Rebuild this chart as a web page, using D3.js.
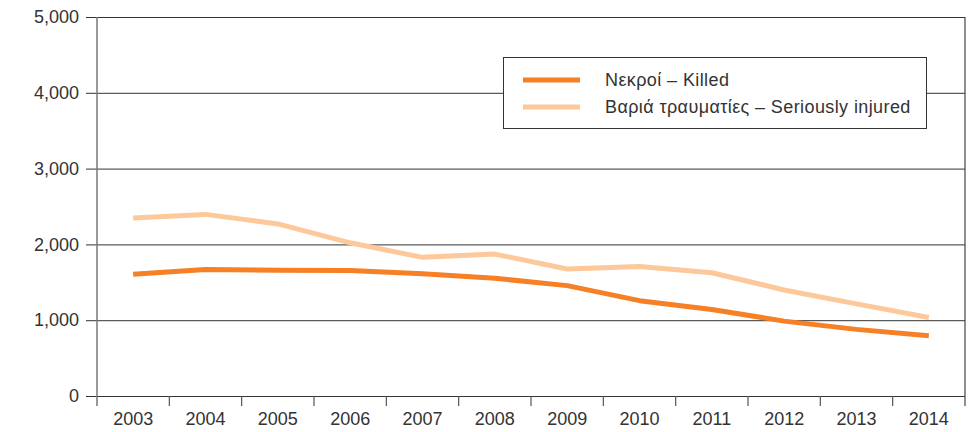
<!DOCTYPE html>
<html>
<head>
<meta charset="utf-8">
<script src="https://cdn.jsdelivr.net/npm/d3@7"></script>
<style>
body { margin: 0; background: #fff; }
svg text { font-family: "Liberation Sans", Arial, sans-serif; fill: #333; }
</style>
</head>
<body>
<svg id="chart" width="969" height="432"></svg>
<script>
const years = ["2003","2004","2005","2006","2007","2008","2009","2010","2011","2012","2013","2014"];
const killed = [1605, 1670, 1658, 1657, 1612, 1553, 1456, 1258, 1141, 988, 879, 795];
const injured = [2348, 2396, 2270, 2021, 1829, 1872, 1676, 1709, 1626, 1399, 1215, 1036];
const yTicks = [0, 1000, 2000, 3000, 4000, 5000];
const seriesNames = ["Νεκροί – Killed", "Βαριά τραυματίες – Seriously injured"];
const colors = ["#F58025", "#FDC89A"];

const svg = d3.select("#chart");
const pL = 97, pR = 965, pT = 17, pB = 396;
const fs = "18px";

const x = d3.scaleBand().domain(years).range([pL, pR]);
const y = d3.scaleLinear().domain([0, 5000]).range([pB, pT]);

// gridlines with outside ticks
const yAxis = svg.append("g").attr("transform", `translate(${pR},0)`)
  .call(d3.axisLeft(y).tickValues(yTicks).tickSize(pR - pL + 11).tickFormat(d3.format(",")).tickPadding(7));
yAxis.select(".domain").remove();
yAxis.selectAll(".tick line").attr("stroke", "#333").attr("stroke-width", 1);
yAxis.selectAll(".tick text").style("font-size", fs).style("font-family", "'Liberation Sans', Arial, sans-serif").attr("fill", "#333");

// y axis line
svg.append("line").attr("x1", pL).attr("x2", pL).attr("y1", pT).attr("y2", pB + 10)
  .attr("stroke", "#777").attr("stroke-width", 1.5);
// right border
svg.append("line").attr("x1", pR).attr("x2", pR).attr("y1", pT).attr("y2", pB + 10)
  .attr("stroke", "#444").attr("stroke-width", 1.2);

// x ticks at band boundaries
svg.append("g").selectAll("line").data(years.slice(1)).join("line")
  .attr("x1", d => x(d)).attr("x2", d => x(d))
  .attr("y1", pB).attr("y2", pB + 10)
  .attr("stroke", "#555").attr("stroke-width", 1.2);

// x labels
svg.append("g").selectAll("text").data(years).join("text")
  .attr("x", d => x(d) + x.bandwidth() / 2).attr("y", 425)
  .attr("text-anchor", "middle").style("font-size", fs).text(d => d);

const line = d3.line().x((d, i) => x(years[i]) + x.bandwidth() / 2).y(d => y(d));

[injured, killed].forEach((s, k) => {
  svg.append("path").datum(s).attr("d", line)
    .attr("fill", "none").attr("stroke", k === 0 ? colors[1] : colors[0])
    .attr("stroke-width", 5).attr("stroke-linejoin", "round");
});

// legend
const lg = svg.append("g");
lg.append("rect").attr("x", 503.5).attr("y", 57.5).attr("width", 423).attr("height", 71)
  .attr("fill", "#fff").attr("stroke", "#333").attr("stroke-width", 1);
seriesNames.forEach((n, i) => {
  const ly = 80 + i * 27;
  lg.append("line").attr("x1", 523).attr("x2", 580).attr("y1", ly).attr("y2", ly)
    .attr("stroke", colors[i]).attr("stroke-width", 5);
  lg.append("text").attr("x", 605).attr("y", ly + 6).style("font-size", fs)
    .style("letter-spacing", "0.4px").text(n);
});
</script>
</body>
</html>
